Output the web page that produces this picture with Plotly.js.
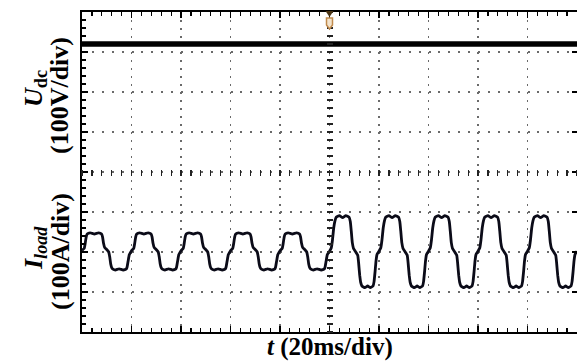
<!DOCTYPE html>
<html>
<head>
<meta charset="utf-8">
<script src="https://cdn.plot.ly/plotly-3.0.1.min.js"></script>
<style>html,body{margin:0;padding:0;background:#fff;}#chart{width:577px;height:362px;}</style>
</head>
<body>
<div id="chart"></div>
<script>
// ---- data ----
// time in ms (20 ms/div), load current in A (100 A/div), DC-link voltage in V (100 V/div)
const udcTime = [0, 200];
const udcValue = [320, 320];

const iTime = [
  0, 0.9, 1.3, 1.7, 2.1, 3.3, 5, 6.7, 7.9, 8.3, 8.7, 9.2, 9.7, 10.8, 11.2, 11.6, 12, 12.5, 13.5, 15, 16.6, 17.8, 18.2, 18.6, 19.1, 19.6,
  20, 20.9, 21.3, 21.7, 22.1, 23.3, 25, 26.7, 27.9, 28.3, 28.7, 29.2, 29.7, 30.8, 31.2, 31.6, 32, 32.5, 33.5, 35, 36.6, 37.8, 38.2, 38.6, 39.1, 39.6,
  40, 40.9, 41.3, 41.7, 42.1, 43.3, 45, 46.7, 47.9, 48.3, 48.7, 49.2, 49.7, 50.8, 51.2, 51.6, 52, 52.5, 53.5, 55, 56.6, 57.8, 58.2, 58.6, 59.1, 59.6,
  60, 60.9, 61.3, 61.7, 62.1, 63.3, 65, 66.7, 67.9, 68.3, 68.7, 69.2, 69.7, 70.8, 71.2, 71.6, 72, 72.5, 73.5, 75, 76.6, 77.8, 78.2, 78.6, 79.1, 79.6,
  80, 80.9, 81.3, 81.7, 82.1, 83.3, 85, 86.7, 87.9, 88.3, 88.7, 89.2, 89.7, 90.8, 91.2, 91.6, 92, 92.5, 93.5, 95, 96.6, 97.8, 98.2, 98.6, 99.1, 99.6,
  100, 100.7, 101.2, 101.7, 102.2, 102.7, 104, 105.3, 106.6, 107.9, 108.4, 108.8, 109.2, 109.7, 111.4, 111.8, 112.2, 112.6, 113.1, 114.3, 115.4, 116.5, 117.6, 118, 118.4, 118.8, 119.2,
  120, 120.7, 121.2, 121.7, 122.2, 122.7, 124, 125.3, 126.6, 127.9, 128.4, 128.8, 129.2, 129.7, 131.4, 131.8, 132.2, 132.6, 133.1, 134.3, 135.4, 136.5, 137.6, 138, 138.4, 138.8, 139.2,
  140, 140.7, 141.2, 141.7, 142.2, 142.7, 144, 145.3, 146.6, 147.9, 148.4, 148.8, 149.2, 149.7, 151.4, 151.8, 152.2, 152.6, 153.1, 154.3, 155.4, 156.5, 157.6, 158, 158.4, 158.8, 159.2,
  160, 160.7, 161.2, 161.7, 162.2, 162.7, 164, 165.3, 166.6, 167.9, 168.4, 168.8, 169.2, 169.7, 171.4, 171.8, 172.2, 172.6, 173.1, 174.3, 175.4, 176.5, 177.6, 178, 178.4, 178.8, 179.2,
  180, 180.7, 181.2, 181.7, 182.2, 182.7, 184, 185.3, 186.6, 187.9, 188.4, 188.8, 189.2, 189.7, 191.4, 191.8, 192.2, 192.6, 193.1, 194.3, 195.4, 196.5, 197.6, 198, 198.4, 198.8, 199.2,
  200
];
const iLoad = [
  4, 9, 22, 38, 45, 48, 45, 48, 45, 38, 22, 11, 8, 0, -12, -30, -39, -43, -45, -42, -45, -43, -38, -24, -7, -1,
  3, 9, 22, 38, 45, 48, 45, 48, 45, 38, 22, 11, 8, 0, -12, -30, -39, -43, -45, -42, -45, -43, -38, -24, -7, -1,
  3, 9, 22, 38, 45, 48, 45, 48, 45, 38, 22, 11, 8, 0, -12, -30, -39, -43, -45, -42, -45, -43, -38, -24, -7, -1,
  3, 9, 22, 38, 45, 48, 45, 48, 45, 38, 22, 11, 8, 0, -12, -30, -39, -43, -45, -42, -45, -43, -38, -24, -7, -1,
  3, 9, 22, 38, 45, 48, 45, 48, 45, 38, 22, 11, 8, 0, -12, -30, -39, -43, -45, -42, -45, -43, -38, -24, -7, -1,
  2, 10, 30, 60, 78, 87, 91, 86, 91, 87, 76, 52, 24, 9, -8, -30, -58, -76, -85, -89, -85, -89, -85, -74, -50, -22, -6,
  2, 10, 30, 60, 78, 87, 91, 86, 91, 87, 76, 52, 24, 9, -8, -30, -58, -76, -85, -89, -85, -89, -85, -74, -50, -22, -6,
  2, 10, 30, 60, 78, 87, 91, 86, 91, 87, 76, 52, 24, 9, -8, -30, -58, -76, -85, -89, -85, -89, -85, -74, -50, -22, -6,
  2, 10, 30, 60, 78, 87, 91, 86, 91, 87, 76, 52, 24, 9, -8, -30, -58, -76, -85, -89, -85, -89, -85, -74, -50, -22, -6,
  2, 10, 30, 60, 78, 87, 91, 86, 91, 87, 76, 52, 24, 9, -8, -30, -58, -76, -85, -89, -85, -89, -85, -74, -50, -22, -6,
  2
];
const triggerTime = 100;

// ---- styling ----
const FONT = '"Liberation Serif", "Times New Roman", serif';
const frame = {
  showline: true, linecolor: '#000', linewidth: 2,
  ticks: 'inside', ticklen: 6, tickwidth: 1.5, tickcolor: '#000',
  showticklabels: false, zeroline: false,
  showgrid: true, gridcolor: '#6a6a6a', gridwidth: 1.3
};

const traces = [
  { type: 'scatter', mode: 'lines', x: udcTime, y: udcValue, xaxis: 'x', yaxis: 'y2',
    line: { color: '#000', width: 5.5 }, hoverinfo: 'skip' },
  { type: 'scatter', mode: 'lines', x: iTime, y: iLoad, xaxis: 'x', yaxis: 'y',
    line: { color: '#0b0b18', width: 2.8, shape: 'spline', smoothing: 0.35 }, hoverinfo: 'skip' },
  { type: 'scatter', mode: 'lines', x: [], y: [], xaxis: 'x3', yaxis: 'y', hoverinfo: 'skip' },
  { type: 'scatter', mode: 'lines', x: [], y: [], xaxis: 'x', yaxis: 'y3', hoverinfo: 'skip' },
  { type: 'scatter', mode: 'lines', x: [], y: [], xaxis: 'x', yaxis: 'y4', hoverinfo: 'skip' }
];

const labelFont = { family: FONT, size: 26, color: '#000', weight: 'bold' };

const layout = {
  width: 577, height: 362,
  margin: { l: 82, r: 0, t: 12, b: 30 },
  paper_bgcolor: '#fff', plot_bgcolor: '#fff',
  showlegend: false,
  xaxis: Object.assign({}, frame, {
    mirror: 'ticks',
    range: [0, 200], tick0: 0, dtick: 20, griddash: '2px,6px',
    minor: { dtick: 4, tick0: 0, ticks: 'inside', ticklen: 4, tickwidth: 1.2, tickcolor: '#000', showgrid: false }
  }),
  yaxis: Object.assign({}, frame, {
    mirror: false,
    range: [-200, 600], tick0: 0, dtick: 100, griddash: '2px,7.9px',
    minor: { dtick: 20, tick0: 0, ticks: 'inside', ticklen: 4, tickwidth: 1.2, tickcolor: '#000', showgrid: false }
  }),
  yaxis2: { overlaying: 'y', side: 'right', range: [-400, 400], showgrid: false, showline: false,
    ticks: '', showticklabels: false, zeroline: false },
  yaxis4: { overlaying: 'y', side: 'right', anchor: 'x', range: [-200, 600], tick0: 0, dtick: 100,
    ticks: 'inside', ticklen: 5, tickwidth: 1.5, tickcolor: '#000', showline: false, showgrid: false,
    showticklabels: false, zeroline: false },
  xaxis3: { overlaying: 'x', anchor: 'free', position: 0.5 + 3 / 320, range: [0, 200], tick0: 0, dtick: 4,
    ticks: 'outside', ticklen: 6, tickwidth: 1.2, tickcolor: '#222', showline: false, showgrid: false,
    showticklabels: false, zeroline: false },
  yaxis3: { overlaying: 'y', anchor: 'free', side: 'left', position: (248 + 3) / 495, range: [-200, 600], tick0: 0, dtick: 20,
    ticks: 'outside', ticklen: 6, tickwidth: 1.2, tickcolor: '#222', showline: false, showgrid: false,
    showticklabels: false, zeroline: false },
  shapes: [
    { type: 'path', xref: 'x', xsizemode: 'pixel', xanchor: triggerTime, yref: 'paper', ysizemode: 'pixel', yanchor: 1,
      path: 'M-4,1 L4,1 L0,-5 Z', fillcolor: '#4a3414', line: { width: 0 } },
    { type: 'path', xref: 'x', xsizemode: 'pixel', xanchor: triggerTime, yref: 'paper', ysizemode: 'pixel', yanchor: 1,
      path: 'M-3,-6 L3,-6 L3,-13 L0,-17 L-3,-13 Z', fillcolor: '#f3e3cc', line: { color: '#c08a4c', width: 1.5 } }
  ],
  annotations: [
    { xref: 'paper', yref: 'paper', x: 0, y: (332 - 89) / 320, xshift: -47, xanchor: 'center', yanchor: 'middle',
      textangle: -90, showarrow: false, text: '<i>U</i><sub>dc</sub>', font: labelFont },
    { xref: 'paper', yref: 'paper', x: 0, y: (332 - 96) / 320, xshift: -22, xanchor: 'center', yanchor: 'middle',
      textangle: -90, showarrow: false, text: '(100V/div)', font: labelFont },
    { xref: 'paper', yref: 'paper', x: 0, y: (332 - 248) / 320, xshift: -47, xanchor: 'center', yanchor: 'middle',
      textangle: -90, showarrow: false, text: '<i>I</i><sub><i>load</i></sub>', font: labelFont },
    { xref: 'paper', yref: 'paper', x: 0, y: (332 - 252) / 320, xshift: -22, xanchor: 'center', yanchor: 'middle',
      textangle: -90, showarrow: false, text: '(100A/div)', font: labelFont },
    { xref: 'paper', yref: 'paper', x: (330 - 82) / 495, y: (332 - 347) / 320, xanchor: 'center', yanchor: 'middle',
      showarrow: false, text: '<i>t</i> (20ms/div)',
      font: { family: FONT, size: 25, color: '#000', weight: 'bold' } }
  ]
};

Plotly.newPlot('chart', traces, layout, { staticPlot: true, displayModeBar: false });
</script>
</body>
</html>
